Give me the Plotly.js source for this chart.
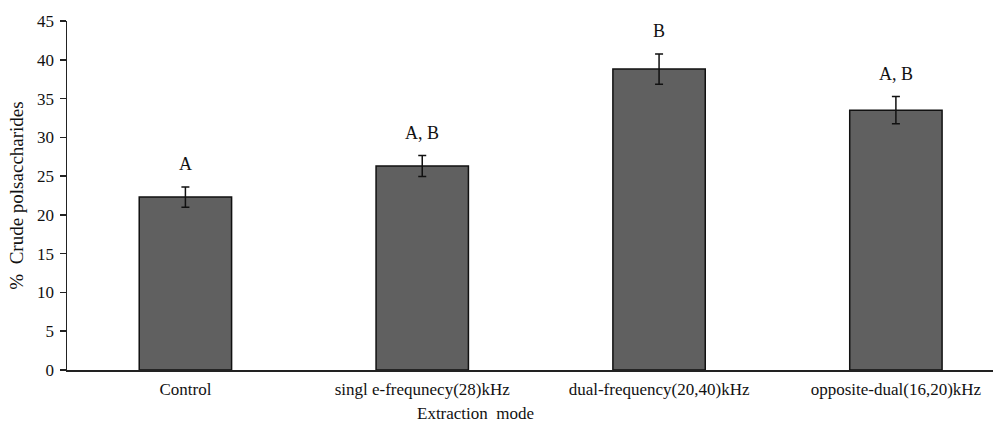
<!DOCTYPE html>
<html><head><meta charset="utf-8">
<script src="https://cdn.plot.ly/plotly-3.0.1.min.js"></script>
<style>html,body{margin:0;padding:0;background:#fff}#chart{width:993px;height:428px}</style>
</head><body><div id="chart"></div>
<script>
const categories = ["Control", "singl e-frequnecy(28)kHz", "dual-frequency(20,40)kHz", "opposite-dual(16,20)kHz"];
const values = [22.3, 26.3, 38.8, 33.5];
const errors = [1.3, 1.35, 1.95, 1.75];
const letters = ["A", "A, B", "B", "A, B"];
const yTicks = [0, 5, 10, 15, 20, 25, 30, 35, 40, 45];

const font = {family: "Liberation Serif, Times New Roman, serif", color: "#111"};
const trace = {
  type: "bar", x: categories, y: values, width: 0.39,
  marker: {color: "#606060", line: {color: "#111", width: 1.5}},
  error_y: {type: "data", array: errors, visible: true, color: "#111", thickness: 1.5, width: 4},
  hoverinfo: "none"
};
const annotations = categories.map((c, i) => ({
  x: c, y: values[i] + errors[i], text: letters[i], showarrow: false,
  yanchor: "bottom", yshift: 11, font: Object.assign({size: 18}, font)
}));
annotations.push({
  xref: "paper", yref: "paper", x: (475 - 67) / 926, y: -43 / 349, xanchor: "center", yanchor: "middle",
  text: "Extraction  mode", showarrow: false, font: Object.assign({size: 17}, font)
});
const layout = {
  width: 993, height: 428,
  margin: {l: 67, r: 0, t: 21, b: 58},
  paper_bgcolor: "#fff", plot_bgcolor: "#fff",
  showlegend: false, bargap: 0,
  font: Object.assign({size: 14}, font),
  xaxis: {
    type: "category", range: [-0.5, 3.41],
    showline: true, linecolor: "#222", linewidth: 1.5,
    ticks: "", showgrid: false, zeroline: false, ticklabelstandoff: 3,
    tickfont: Object.assign({size: 17}, font)
  },
  yaxis: {
    range: [0, 45], tickvals: yTicks, showline: true, linecolor: "#222", linewidth: 1.5,
    ticks: "outside", ticklen: 6, tickwidth: 1.5, tickcolor: "#222",
    showgrid: false, zeroline: false, ticklabelstandoff: 2,
    tickfont: Object.assign({size: 17}, font),
    title: {text: "%  Crude polsaccharides", font: Object.assign({size: 19}, font), standoff: 8}
  },
  annotations: annotations
};
Plotly.newPlot("chart", [trace], layout, {displayModeBar: false, staticPlot: true});
</script></body></html>
